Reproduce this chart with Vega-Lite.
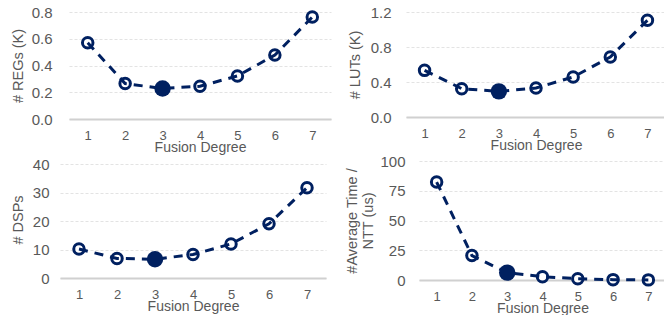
{
  "$schema": "https://vega.github.io/schema/vega-lite/v6.json",
  "padding": {"left": 10, "top": 5, "right": 0, "bottom": 0},
  "background": "white",
  "datasets": {
    "regs": [
      {"degree": 1, "value": 0.57}, {"degree": 2, "value": 0.265}, {"degree": 3, "value": 0.228},
      {"degree": 4, "value": 0.245}, {"degree": 5, "value": 0.322}, {"degree": 6, "value": 0.478}, {"degree": 7, "value": 0.762}
    ],
    "luts": [
      {"degree": 1, "value": 0.533}, {"degree": 2, "value": 0.324}, {"degree": 3, "value": 0.293},
      {"degree": 4, "value": 0.331}, {"degree": 5, "value": 0.457}, {"degree": 6, "value": 0.686}, {"degree": 7, "value": 1.105}
    ],
    "dsps": [
      {"degree": 1, "value": 10.2}, {"degree": 2, "value": 6.9}, {"degree": 3, "value": 6.6},
      {"degree": 4, "value": 8.3}, {"degree": 5, "value": 12.0}, {"degree": 6, "value": 19.1}, {"degree": 7, "value": 31.8}
    ],
    "time": [
      {"degree": 1, "value": 82.3}, {"degree": 2, "value": 20.5}, {"degree": 3, "value": 6.2},
      {"degree": 4, "value": 2.8}, {"degree": 5, "value": 1.1}, {"degree": 6, "value": 0.3}, {"degree": 7, "value": 0.1}
    ]
  },
  "spacing": 0,
  "vconcat": [
    {
      "spacing": 16,
      "hconcat": [
        {
          "width": 262, "height": 107,
          "data": {"name": "regs"},
          "encoding": {
            "x": {"field": "degree", "type": "ordinal", "scale": {"type": "point", "padding": 0.5}, "title": "Fusion Degree"},
            "y": {"field": "value", "type": "quantitative", "scale": {"domain": [0, 0.8]}, "title": "# REGs (K)",
                  "axis": {"values": [0, 0.2, 0.4, 0.6, 0.8], "format": ".1f", "labelPadding": 17, "titlePadding": 6}}
          },
          "layer": [
            {"mark": {"type": "point", "shape": "circle", "filled": true, "fill": "white", "stroke": "#002060", "strokeWidth": 3, "size": 110, "opacity": 1}},
            {"mark": {"type": "line", "color": "#002060", "strokeWidth": 3, "strokeDash": [9, 7]}},
            {"transform": [{"filter": "datum.degree == 3"}], "mark": {"type": "circle", "color": "#002060", "size": 270, "opacity": 1}}
          ]
        },
        {
          "width": 260, "height": 105,
          "data": {"name": "luts"},
          "encoding": {
            "x": {"field": "degree", "type": "ordinal", "scale": {"type": "point", "padding": 0.5}, "title": "Fusion Degree"},
            "y": {"field": "value", "type": "quantitative", "scale": {"domain": [0, 1.2]}, "title": "# LUTs (K)",
                  "axis": {"values": [0, 0.4, 0.8, 1.2], "format": ".1f", "labelPadding": 15, "titlePadding": 8}}
          },
          "layer": [
            {"mark": {"type": "point", "shape": "circle", "filled": true, "fill": "white", "stroke": "#002060", "strokeWidth": 3, "size": 110, "opacity": 1}},
            {"mark": {"type": "line", "color": "#002060", "strokeWidth": 3, "strokeDash": [9, 7]}},
            {"transform": [{"filter": "datum.degree == 3"}], "mark": {"type": "circle", "color": "#002060", "size": 270, "opacity": 1}}
          ]
        }
      ]
    },
    {
      "spacing": 9,
      "hconcat": [
        {
          "width": 257, "height": 117,
          "data": {"name": "dsps"},
          "encoding": {
            "x": {"field": "degree", "type": "ordinal", "scale": {"type": "point", "padding": 0.5, "range": [-9, 257]}, "title": "Fusion Degree"},
            "y": {"field": "value", "type": "quantitative", "scale": {"domain": [0, 41.2], "nice": false}, "title": "# DSPs",
                  "axis": {"values": [0, 10, 20, 30, 40], "labelPadding": 20, "titlePadding": 7}}
          },
          "layer": [
            {"mark": {"type": "point", "shape": "circle", "filled": true, "fill": "white", "stroke": "#002060", "strokeWidth": 3, "size": 110, "opacity": 1}},
            {"mark": {"type": "line", "color": "#002060", "strokeWidth": 3, "strokeDash": [9, 7]}},
            {"transform": [{"filter": "datum.degree == 3"}], "mark": {"type": "circle", "color": "#002060", "size": 270, "opacity": 1}}
          ]
        },
        {
          "width": 247, "height": 119,
          "data": {"name": "time"},
          "encoding": {
            "x": {"field": "degree", "type": "ordinal", "scale": {"type": "point", "padding": 0.5}, "title": "Fusion Degree"},
            "y": {"field": "value", "type": "quantitative", "scale": {"domain": [0, 100]}, "title": ["#Average Time /", "NTT (us)"],
                  "axis": {"values": [0, 25, 50, 75, 100], "labelPadding": 14, "titlePadding": 4}}
          },
          "layer": [
            {"mark": {"type": "point", "shape": "circle", "filled": true, "fill": "white", "stroke": "#002060", "strokeWidth": 3, "size": 110, "opacity": 1}},
            {"mark": {"type": "line", "color": "#002060", "strokeWidth": 3, "strokeDash": [9, 7]}},
            {"transform": [{"filter": "datum.degree == 3"}], "mark": {"type": "circle", "color": "#002060", "size": 270, "opacity": 1}}
          ]
        }
      ]
    }
  ],
  "config": {
    "view": {"stroke": null},
    "font": "Liberation Sans",
    "axis": {
      "labelFont": "Liberation Sans", "titleFont": "Liberation Sans",
      "titleFontWeight": "normal",
      "labelColor": "#595959", "titleColor": "#595959", "ticks": false
    },
    "axisX": {"labelAngle": 0, "grid": false, "domainColor": "#d0d0d0", "domainWidth": 2, "labelFontSize": 13, "titleFontSize": 14, "labelPadding": 10, "titlePadding": -2},
    "axisY": {"domain": false, "grid": true, "gridColor": "#e3e3e3", "gridDash": [3, 2], "gridWidth": 1, "labelFontSize": 15, "titleFontSize": 14.5}
  }
}
